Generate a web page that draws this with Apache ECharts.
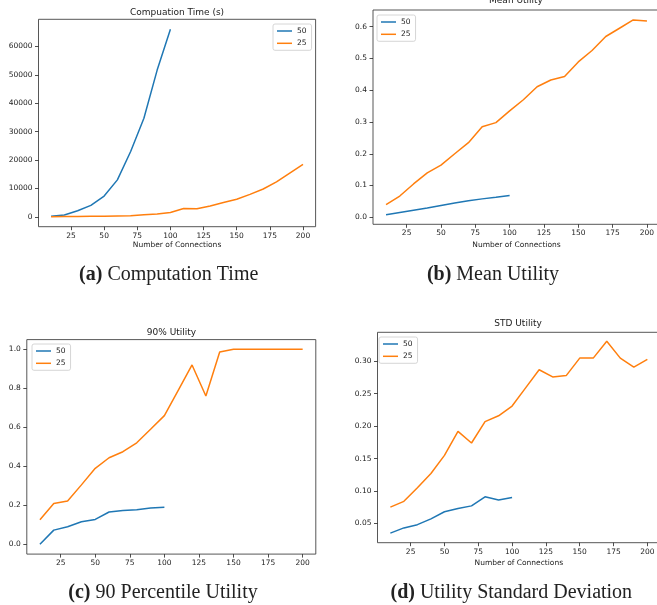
<!DOCTYPE html>
<html>
<head>
<meta charset="utf-8">
<script src="https://cdn.jsdelivr.net/npm/echarts@6/dist/echarts.min.js"></script>
<style>
html,body{margin:0;padding:0;background:#fff;overflow:hidden;}
#main{width:700px;height:605px;}
</style>
</head>
<body>
<div id="main"></div>
<script>
// connections on the x axis
var conn50 = [10, 20, 30, 40, 50, 60, 70, 80, 90, 100];
var conn25 = [10, 20, 30, 40, 50, 60, 70, 80, 90, 100, 110, 120, 130, 140, 150, 160, 170, 180, 190, 200];
var seriesNames = ['50', '25'];

// (a) computation time
var time50 = [200, 600, 2100, 4000, 7300, 13000, 23000, 34700, 51700, 66100];
var time25 = [50, 70, 100, 150, 200, 300, 400, 700, 1000, 1500, 2900, 2800, 3800, 5000, 6200, 7900, 9800, 12300, 15400, 18500];
// (b) mean utility
var mean50 = [0.008, 0.015, 0.022, 0.029, 0.037, 0.045, 0.052, 0.058, 0.063, 0.069];
var mean25 = [0.040, 0.067, 0.105, 0.140, 0.164, 0.200, 0.235, 0.285, 0.298, 0.335, 0.370, 0.411, 0.432, 0.443, 0.489, 0.525, 0.569, 0.595, 0.621, 0.618];
// (c) 90% utility
var p90_50 = [0.0, 0.073, 0.090, 0.116, 0.128, 0.166, 0.174, 0.178, 0.186, 0.190];
var p90_25 = [0.126, 0.210, 0.222, 0.305, 0.390, 0.444, 0.475, 0.521, 0.590, 0.660, 0.790, 0.920, 0.761, 0.986, 1.0, 1.0, 1.0, 1.0, 1.0, 1.0];
// (d) std utility
var std50 = [0.035, 0.043, 0.048, 0.057, 0.068, 0.073, 0.077, 0.091, 0.086, 0.090];
var std25 = [0.075, 0.084, 0.105, 0.127, 0.155, 0.192, 0.174, 0.207, 0.216, 0.231, 0.259, 0.287, 0.276, 0.278, 0.305, 0.305, 0.331, 0.305, 0.291, 0.303];

// tick labels
var xTicks = [25, 50, 75, 100, 125, 150, 175, 200];
var yTicksA = [0, 10000, 20000, 30000, 40000, 50000, 60000];
var yTicksB = [0, 0.1, 0.2, 0.3, 0.4, 0.5, 0.6];
var yTicksC = [0, 0.2, 0.4, 0.6, 0.8, 1.0];
var yTicksD = [0.05, 0.10, 0.15, 0.20, 0.25, 0.30];

var BLUE = '#1f77b4', ORANGE = '#ff7f0e', INK = '#222';
var SANS = 'DejaVu Sans';
var FS = 7.5;

function zip(xs, ys){
	var out = [];
	for(var i=0;i<xs.length;i++){ out.push([xs[i], ys[i]]); }
	return out;
}

function xAxisFor(idx, withName, nameGap){
	return {
		type:'value', gridIndex:idx, min:0.5, max:209.5,
		name: withName ? 'Number of Connections' : '',
		nameLocation:'middle', nameGap:nameGap,
		nameTextStyle:{fontFamily:SANS, fontSize:FS, color:INK},
		axisLine:{show:false, onZero:false},
		splitLine:{show:false},
		axisTick:{show:true, customValues:xTicks, length:3.5, lineStyle:{color:INK, width:0.8}},
		axisLabel:{customValues:xTicks, margin:5, fontFamily:SANS, fontSize:FS, color:INK}
	};
}

function yAxisFor(idx, min, max, ticks, digits){
	return {
		type:'value', gridIndex:idx, min:min, max:max,
		axisLine:{show:false, onZero:false},
		splitLine:{show:false},
		axisTick:{show:true, customValues:ticks, length:3.5, lineStyle:{color:INK, width:0.8}},
		axisLabel:{customValues:ticks, margin:6, fontFamily:SANS, fontSize:FS, color:INK,
			formatter:function(v){ return digits < 0 ? String(Math.round(v)) : v.toFixed(digits); }}
	};
}

function legendAt(left, top){
	return {
		data:seriesNames, orient:'vertical', left:left, top:top,
		icon:'rect', itemWidth:15, itemHeight:1.5, itemGap:4.3,
		padding:[3,5,3,4],
		borderColor:'#ccc', borderWidth:0.8, borderRadius:2,
		backgroundColor:'rgba(255,255,255,0.8)',
		textStyle:{fontFamily:SANS, fontSize:FS, color:INK, lineHeight:8},
		selectedMode:false
	};
}

function line(name, idx, data, color){
	return {
		name:name, type:'line', xAxisIndex:idx, yAxisIndex:idx,
		data:data, symbol:'none', animation:false,
		lineStyle:{color:color, width:1.5}, itemStyle:{color:color}
	};
}

function label(x, y, text, size){
	return {type:'text', x:x, y:y,
		style:{text:text, fill:INK, font:size+'px "'+SANS+'"', align:'center', verticalAlign:'middle'}};
}
function caption(x, y, tag, text){
	return {type:'text', x:x, y:y,
		style:{text:'{b|('+tag+')} '+text, fill:INK, fontFamily:'Liberation Serif', fontSize:20,
			align:'center', verticalAlign:'middle',
			rich:{b:{fontWeight:'bold', fontFamily:'Liberation Serif', fontSize:20, fill:INK}}}};
}

var gridStyle = {show:true, borderColor:'#444', borderWidth:0.9, backgroundColor:'#fff'};

var option = {
	animation:false,
	backgroundColor:'#fff',
	grid:[
		Object.assign({left:38.5, top:19.3, width:277.1, height:207.4}, gridStyle),
		Object.assign({left:373, top:10, width:287, height:214.3}, gridStyle),
		Object.assign({left:26.8, top:339.6, width:289, height:214.5}, gridStyle),
		Object.assign({left:377.5, top:332.3, width:282.7, height:210.4}, gridStyle)
	],
	xAxis:[
		xAxisFor(0, true, 14.5),
		xAxisFor(1, true, 17),
		xAxisFor(2, false, 0),
		xAxisFor(3, true, 16)
	],
	yAxis:[
		yAxisFor(0, -3500, 69600, yTicksA, -1),
		yAxisFor(1, -0.022, 0.6524, yTicksB, 1),
		yAxisFor(2, -0.05, 1.05, yTicksC, 1),
		yAxisFor(3, 0.0202, 0.3448, yTicksD, 2)
	],
	legend:[
		legendAt(273, 24),
		legendAt(377, 15),
		legendAt(32, 344),
		legendAt(379, 337)
	],
	series:[
		line('50', 0, zip(conn50, time50), BLUE),
		line('25', 0, zip(conn25, time25), ORANGE),
		line('50', 1, zip(conn50, mean50), BLUE),
		line('25', 1, zip(conn25, mean25), ORANGE),
		line('50', 2, zip(conn50, p90_50), BLUE),
		line('25', 2, zip(conn25, p90_25), ORANGE),
		line('50', 3, zip(conn50, std50), BLUE),
		line('25', 3, zip(conn25, std25), ORANGE)
	],
	graphic:[
		label(177, 13, 'Compuation Time (s)', 9),
		label(516, 1, 'Mean Utility', 9),
		label(171.5, 332.3, '90% Utility', 9),
		label(518, 324, 'STD Utility', 9),
		caption(168.7, 275, 'a', 'Computation Time'),
		caption(493, 275, 'b', 'Mean Utility'),
		caption(163, 593, 'c', '90 Percentile Utility'),
		caption(511.3, 593, 'd', 'Utility Standard Deviation')
	]
};

echarts.init(document.getElementById('main')).setOption(option);
</script>
</body>
</html>
